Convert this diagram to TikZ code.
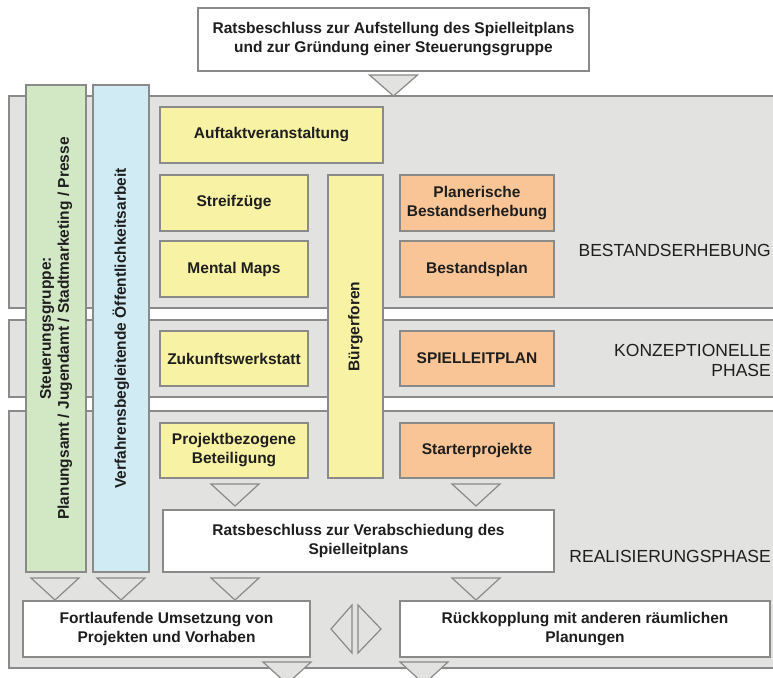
\documentclass[tikz,border=0pt]{standalone}
\usepackage{fontspec}
\setmainfont{Liberation Sans}
\usetikzlibrary{calc}
\definecolor{bandfill}{HTML}{E2E2E0}
\definecolor{edgegray}{HTML}{8A8A8A}
\definecolor{boxyellow}{HTML}{F8F2A4}
\definecolor{boxorange}{HTML}{F9C596}
\definecolor{boxgreen}{HTML}{D2E7C4}
\definecolor{boxblue}{HTML}{D0EBF3}
\definecolor{txt}{HTML}{1E1E1E}
\tikzset{
  band/.style={fill=bandfill, draw=edgegray, line width=1.2pt},
  box/.style={draw=edgegray, line width=1.2pt, inner sep=0pt, align=center,
    text=txt, font=\fontsize{15.5}{19}\selectfont\bfseries},
  whitebox/.style={box, fill=white},
  ybox/.style={box, fill=boxyellow},
  obox/.style={box, fill=boxorange},
  tri/.style={fill=bandfill, draw=edgegray, line width=1.2pt, line join=miter},
  phase/.style={anchor=east, align=right, text=txt, inner sep=0pt,
    font=\fontsize{17.5}{20}\selectfont}
}
% triangle pointing down: centre x, top y, tip y
\newcommand\downtri[3]{\draw[tri] ({#1-24},#2) -- ({#1+24},#2) -- (#1,#3) -- cycle;}
\begin{document}
\begin{tikzpicture}[x=1pt,y=-1pt]
\useasboundingbox (0,0) rectangle (773,677);
\fill[white] (0,0) rectangle (773,677);

% phase bands
\draw[band] (9,96) rectangle (790,308);
\draw[band] (9,320) rectangle (790,397);
\draw[band] (9,411) rectangle (790,668);

% council decision at the start
\node[whitebox, minimum width=391, minimum height=63] (start) at (393.5,39.5)
  {Ratsbeschluss zur Aufstellung des Spielleitplans\\und zur Gründung einer Steuerungsgruppe};
\downtri{393.5}{75}{96}

% accompanying columns
\node[box, fill=boxgreen, minimum width=60, minimum height=487] (steuer) at (56,328.5) {};
\node[rotate=90, align=center, text=txt, font=\fontsize{15.5}{18}\selectfont\bfseries]
  at (steuer.center) {Steuerungsgruppe:\\Planungsamt / Jugendamt / Stadtmarketing / Presse};
\node[box, fill=boxblue, minimum width=56, minimum height=487] (oeff) at (121,328.5) {};
\node[rotate=90, text=txt, font=\fontsize{15.5}{18}\selectfont\bfseries]
  at (oeff.center) {Verfahrensbegleitende Öffentlichkeitsarbeit};

% participation boxes
\node[ybox, minimum width=223, minimum height=56] (auftakt) at (271.5,135) {Auftaktveranstaltung};
\node[ybox, minimum width=148, minimum height=56] (streif) at (234,203) {Streifzüge};
\node[ybox, minimum width=148, minimum height=56] (mental) at (234,269) {Mental Maps};
\node[ybox, minimum width=148, minimum height=55] (zukunft) at (234,358.5) {Zukunftswerkstatt};
\node[ybox, minimum width=148, minimum height=55] (projekt) at (234,450.5) {Projektbezogene\\Beteiligung};
\node[ybox, minimum width=55, minimum height=303] (buerger) at (355.5,326.5) {};
\node[rotate=90, text=txt, font=\fontsize{15.5}{18}\selectfont\bfseries]
  at (buerger.center) {Bürgerforen};

% planning boxes
\node[obox, minimum width=154, minimum height=56] (planer) at (477,203) {Planerische\\Bestandserhebung};
\node[obox, minimum width=154, minimum height=56] (bestand) at (477,269) {Bestandsplan};
\node[obox, minimum width=154, minimum height=55] (spiel) at (477,358.5) {SPIELLEITPLAN};
\node[obox, minimum width=154, minimum height=55] (starter) at (477,450.5) {Starterprojekte};

% phase labels
\node[phase] (l1) at (771,250) {BESTANDSERHEBUNG};
\node[phase] (l2) at (771,360) {KONZEPTIONELLE\\PHASE};
\node[phase] (l3) at (771,556) {REALISIERUNGSPHASE};

% adoption of the plan
\downtri{235}{484}{506}
\downtri{476}{484}{506}
\node[whitebox, minimum width=391, minimum height=62] (beschluss) at (358.5,541)
  {Ratsbeschluss zur Verabschiedung des\\Spielleitplans};

% implementation and feedback
\downtri{55}{578}{600}
\downtri{121}{578}{600}
\downtri{235}{578}{600}
\downtri{476}{578}{600}
\node[whitebox, minimum width=287, minimum height=56] (umsetz) at (166.5,629)
  {Fortlaufende Umsetzung von\\Projekten und Vorhaben};
\node[whitebox, minimum width=370, minimum height=56] (rueck) at (585,629)
  {Rückkopplung mit anderen räumlichen\\Planungen};
\draw[tri] (352,605) -- (352,653) -- (331,629) -- cycle;
\draw[tri] (358,605) -- (358,653) -- (381,629) -- cycle;
\downtri{287}{662}{684}
\downtri{424}{662}{684}
\end{tikzpicture}
\end{document}
